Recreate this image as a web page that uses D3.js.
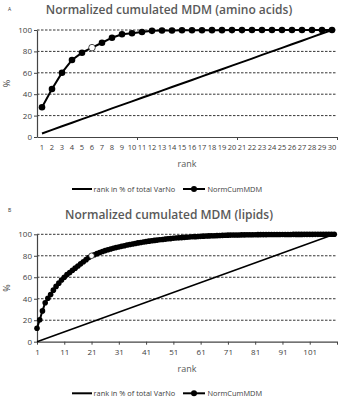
<!DOCTYPE html>
<html>
<head>
<meta charset="utf-8">
<script src="https://cdn.jsdelivr.net/npm/d3@7"></script>
<style>
  body { margin: 0; background: #fff; }
  svg { display: block; }
  text { font-family: "Open Sans", sans-serif; }
</style>
</head>
<body>
<div id="chart"></div>
<script>
// data
const ranksA = d3.range(1, 31);
const cumA = [27.8, 44.9, 60.1, 72, 78.8, 83.5, 88.1, 92.8, 96, 97,
  98.1, 99.2, 99.5, 99.6, 99.7, 99.75, 99.8, 99.85, 99.88, 99.9,
  99.92, 99.94, 99.95, 99.96, 99.97, 99.98, 99.99, 99.99, 100, 100];
const rankPctA = [3.3, 6.7, 10, 13.3, 16.7, 20, 23.3, 26.7, 30, 33.3,
  36.7, 40, 43.3, 46.7, 50, 53.3, 56.7, 60, 63.3, 66.7,
  70, 73.3, 76.7, 80, 83.3, 86.7, 90, 93.3, 96.7, 100];
const highlightA = 6;

const ranksB = d3.range(1, 111);
const cumB = [12.5, 20.5, 28.7, 36.3, 40.5, 44, 48, 51.5, 54.5, 57.5,
  60, 62.5, 64.5, 66.5, 68.5, 70.5, 72.5, 74.5, 76.4, 78.3,
  80, 81, 82, 83, 84, 84.8, 85.6, 86.3, 87, 87.6,
  88.2, 88.8, 89.4, 90, 90.5, 91, 91.5, 92, 92.4, 92.8,
  93.2, 93.6, 94, 94.3, 94.6, 94.9, 95.2, 95.5, 95.8, 96,
  96.3, 96.5, 96.7, 96.9, 97.1, 97.3, 97.5, 97.7, 97.8, 98,
  98.1, 98.3, 98.4, 98.5, 98.6, 98.7, 98.8, 98.9, 99, 99.1,
  99.2, 99.25, 99.3, 99.35, 99.4, 99.45, 99.5, 99.55, 99.6, 99.62,
  99.65, 99.68, 99.7, 99.72, 99.74, 99.76, 99.78, 99.8, 99.82, 99.84,
  99.85, 99.86, 99.87, 99.88, 99.89, 99.9, 99.91, 99.92, 99.93, 99.94,
  99.95, 99.96, 99.97, 99.97, 99.98, 99.98, 99.99, 99.99, 100, 100];
const highlightB = 21;
const ticksB = [1, 11, 21, 31, 41, 51, 61, 71, 81, 91, 101];

const yTicks = [0, 20, 40, 60, 80, 100];
const legendLabels = ["rank in % of total VarNo", "NormCumMDM"];

const W = 341, H = 400;
const svg = d3.select("#chart").append("svg")
  .attr("width", W).attr("height", H);

const left = 37, right = 337;

function drawPanel(cfg) {
  const g = svg.append("g").attr("transform", `translate(0,${cfg.top})`);
  const y = d3.scaleLinear().domain([0, 100]).range([cfg.plotH, 0]);

  // panel letter + title
  g.append("text").attr("x", 8).attr("y", cfg.letterY)
    .attr("font-size", 5).attr("fill", "#333").text(cfg.letter);
  g.append("text").attr("x", 169).attr("y", cfg.titleY)
    .attr("text-anchor", "middle").attr("font-size", 12)
    .attr("fill", "#595959").attr("font-weight", 600).text(cfg.title);

  const plot = g.append("g").attr("transform", `translate(0,${cfg.plotTop})`);

  // dashed grid
  plot.append("g").selectAll("line")
    .data(yTicks.filter(d => d > 0))
    .join("line")
    .attr("x1", left).attr("x2", right)
    .attr("y1", d => y(d)).attr("y2", d => y(d))
    .attr("stroke", "#000").attr("stroke-width", 0.8)
    .attr("stroke-dasharray", "2.5,1.5");

  // y axis
  const ya = plot.append("g").attr("transform", `translate(${left},0)`)
    .call(d3.axisLeft(y).tickValues(yTicks).tickSize(3).tickSizeOuter(0).tickPadding(2));
  ya.select(".domain").attr("stroke", "#444").attr("stroke-width", 1.2);
  ya.selectAll(".tick line").attr("stroke", "#444");
  ya.selectAll("text").attr("font-size", 8).attr("fill", "#404040")
    .attr("font-family", "Open Sans, sans-serif");

  plot.append("text")
    .attr("transform", `translate(10,${y(50)}) rotate(-90)`)
    .attr("text-anchor", "middle").attr("font-size", 9).attr("fill", "#404040")
    .text("%");

  const x = cfg.x;

  // x axis
  cfg.xAxis(plot, y);

  plot.append("text").attr("x", 187).attr("y", cfg.plotH + 30)
    .attr("text-anchor", "middle").attr("font-size", 9).attr("fill", "#595959")
    .text("rank");

  // rank % line
  const line = d3.line().x(d => x(d[0])).y(d => y(d[1]));
  plot.append("path")
    .datum(cfg.diag)
    .attr("d", line).attr("fill", "none")
    .attr("stroke", "#000").attr("stroke-width", cfg.diagW);

  // cumulative curve
  const pts = cfg.ranks.map((r, i) => [r, cfg.cum[i]]);
  plot.append("path").datum(pts)
    .attr("d", line).attr("fill", "none")
    .attr("stroke", "#000").attr("stroke-width", 2);
  plot.append("g").selectAll("circle")
    .data(pts)
    .join("circle")
    .attr("cx", d => x(d[0])).attr("cy", d => y(d[1]))
    .attr("r", cfg.r)
    .attr("fill", d => d[0] === cfg.highlight ? "#fff" : "#000")
    .attr("stroke", d => d[0] === cfg.highlight ? "#000" : "none")
    .attr("stroke-width", 0.7)
    .sort((a, b) => (a[0] === cfg.highlight) - (b[0] === cfg.highlight));

  // legend
  const lg = plot.append("g").attr("transform", `translate(0,${cfg.legendY})`);
  lg.append("line").attr("x1", 72).attr("x2", 92).attr("y1", 0).attr("y2", 0)
    .attr("stroke", "#000").attr("stroke-width", 2);
  lg.append("text").attr("x", 93.5).attr("y", 2.7).attr("font-size", 7.4)
    .attr("fill", "#404040").text(legendLabels[0]);
  lg.append("line").attr("x1", 183).attr("x2", 205).attr("y1", 0).attr("y2", 0)
    .attr("stroke", "#000").attr("stroke-width", 2);
  lg.append("circle").attr("cx", 194).attr("cy", 0).attr("r", 3).attr("fill", "#000");
  lg.append("text").attr("x", 207.5).attr("y", 2.7).attr("font-size", 7.4)
    .attr("fill", "#404040").text(legendLabels[1]);
}

// panel A: category axis, points centred in bands
const xA = d3.scaleBand().domain(ranksA).range([left, right]);
const xAc = r => xA(r) + xA.bandwidth() / 2;
const bound = d3.scaleLinear().domain([0, 30]).range([left, right]);

drawPanel({
  top: 0, letter: "A", letterY: 11, titleY: 14,
  title: "Normalized cumulated MDM (amino acids)",
  plotTop: 30, plotH: 107,
  x: xAc, ranks: ranksA, cum: cumA, highlight: highlightA, r: 3.3, diagW: 2,
  diag: ranksA.map((r, i) => [r, rankPctA[i]]),
  legendY: 159,
  xAxis: (plot, y) => {
    const a = plot.append("g").attr("transform", `translate(0,${y(0)})`)
      .call(d3.axisBottom(bound).tickValues([10, 20, 30]).tickSize(3).tickSizeOuter(0).tickFormat(""));
    a.select(".domain").attr("stroke", "#444").attr("stroke-width", 1.2);
    a.selectAll(".tick line").attr("stroke", "#444");
    const l = plot.append("g").attr("transform", `translate(0,${y(0)})`)
      .call(d3.axisBottom(xA).tickSize(0).tickPadding(8));
    l.select(".domain").remove();
    l.selectAll("text").attr("font-size", 7.5).attr("fill", "#404040")
      .attr("font-family", "Open Sans, sans-serif");
  }
});

// panel B: linear rank axis
const xB = d3.scaleLinear().domain([1, 111]).range([left, right]);
drawPanel({
  top: 200, letter: "B", letterY: 12, titleY: 19,
  title: "Normalized cumulated MDM (lipids)",
  plotTop: 34.3, plotH: 107.4,
  x: xB, ranks: ranksB, cum: cumB, highlight: highlightB, r: 2.8, diagW: 1.6,
  diag: [[ranksB[0], 0], [ranksB[ranksB.length - 1], 100]],
  legendY: 159,
  xAxis: (plot, y) => {
    const a = plot.append("g").attr("transform", `translate(0,${y(0)})`)
      .call(d3.axisBottom(xB).tickValues(ticksB.concat([111])).tickSize(3)
        .tickSizeOuter(0).tickPadding(5)
        .tickFormat(d => ticksB.includes(d) ? d : ""));
    a.select(".domain").attr("stroke", "#444").attr("stroke-width", 1.2);
    a.selectAll(".tick line").attr("stroke", "#444");
    a.selectAll("text").attr("font-size", 8).attr("fill", "#404040")
      .attr("font-family", "Open Sans, sans-serif");
  }
});
</script>
</body>
</html>
